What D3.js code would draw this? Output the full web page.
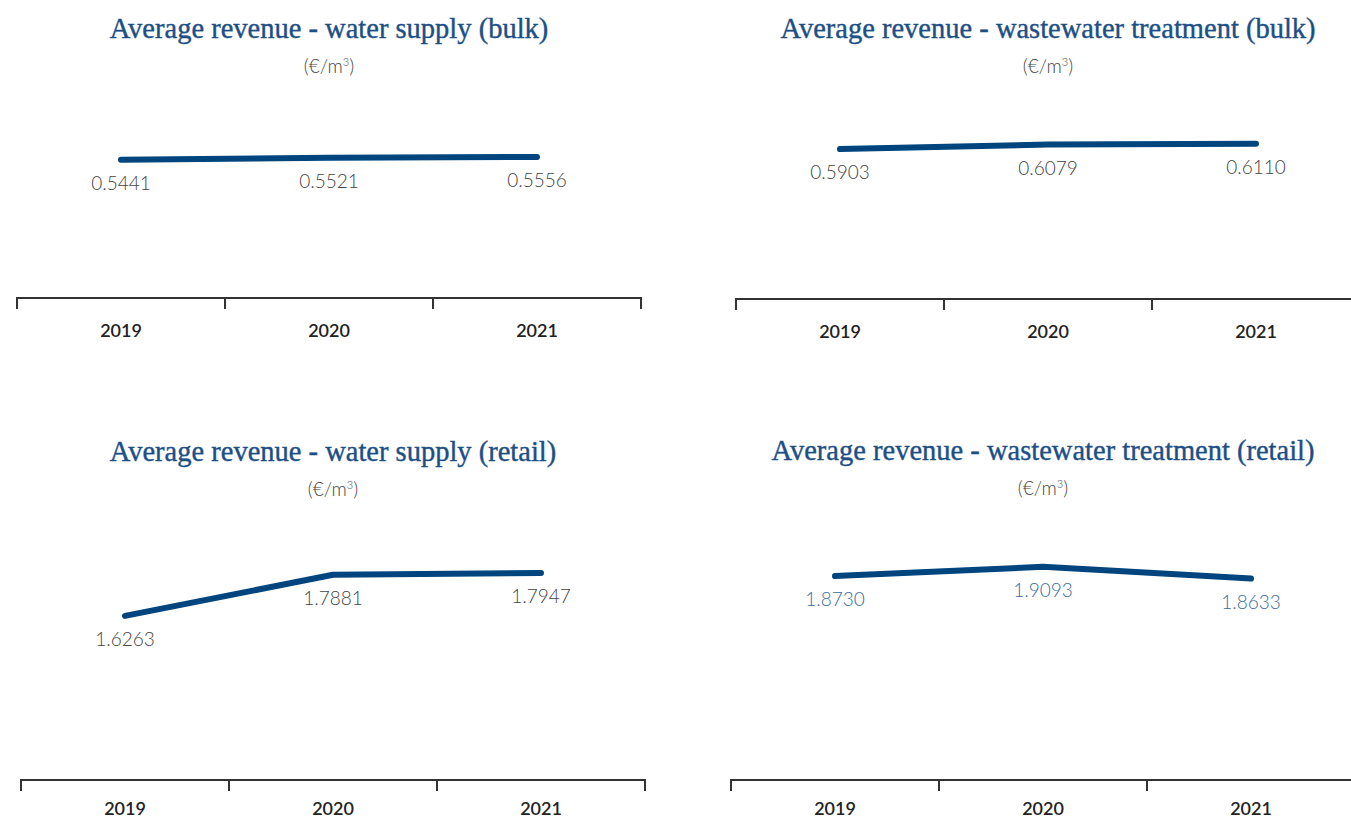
<!DOCTYPE html>
<html>
<head>
<meta charset="utf-8">
<script src="https://cdn.jsdelivr.net/npm/d3@7"></script>
<style>
  body { margin: 0; background: #fff; }
  svg { display: block; }
</style>
</head>
<body>
<script>
//-----------------Data----------------

const years = ["2019", "2020", "2021"];
const titles = [
  "Average revenue - water supply (bulk)",
  "Average revenue - wastewater treatment (bulk)",
  "Average revenue - water supply (retail)",
  "Average revenue - wastewater treatment (retail)"
];
const waterBulk = [0.5441, 0.5521, 0.5556];
const wastewaterBulk = [0.5903, 0.6079, 0.611];
const waterRetail = [1.6263, 1.7881, 1.7947];
const wastewaterRetail = [1.873, 1.9093, 1.8633];
const yFloors = [0, 0, 0.98, 1.07];

//-----------------Layout----------------

const width = 1351;
const height = 819;
const axisWidth = 624;
const pxPerUnit = 254;
const lineColor = "#00457e";
const titleColor = "#1d4f86";

const panels = [
  { left: 17, axisY: 298, titleY: 38, subY: 73, yearY: 39, values: waterBulk, labelColor: "#444" },
  { left: 736, axisY: 299, titleY: 38, subY: 73, yearY: 39, values: wastewaterBulk, labelColor: "#444" },
  { left: 21, axisY: 780, titleY: 461, subY: 496, yearY: 35, values: waterRetail, labelColor: "#444" },
  { left: 731, axisY: 780, titleY: 460, subY: 495, yearY: 35, values: wastewaterRetail, labelColor: "#3b6c9d" }
];

const svg = d3.select("body").append("svg").attr("width", width).attr("height", height);

panels.forEach((p, i) => {
  const g = svg.append("g");
  const cx = p.left + axisWidth / 2;

  //---------------Scales---------------------

  const xScale = d3.scaleBand().domain(years).range([p.left, p.left + axisWidth]);
  const yScale = d3
    .scaleLinear()
    .domain([yFloors[i], yFloors[i] + 1])
    .range([p.axisY, p.axisY - pxPerUnit]);

  //----------------Header-----------------

  g.append("text")
    .attr("x", cx)
    .attr("y", p.titleY)
    .text(titles[i])
    .style("text-anchor", "middle")
    .style("font-family", "'Liberation Serif', serif")
    .style("font-size", "28.5px")
    .style("fill", titleColor)
    .style("stroke", titleColor)
    .style("stroke-width", "0.4px");

  const sub = g
    .append("text")
    .attr("x", cx)
    .attr("y", p.subY)
    .style("text-anchor", "middle")
    .style("font-family", "Lato, sans-serif")
    .style("font-weight", 300)
    .style("font-size", "19px")
    .style("fill", "#444");
  sub.append("tspan").text("(€/m");
  sub.append("tspan").text("3").attr("dy", -7).style("font-size", "11px");
  sub.append("tspan").text(")").attr("dy", 7);

  //-------------Line----------------

  const line = d3
    .line()
    .x((d, j) => xScale(years[j]) + xScale.bandwidth() / 2)
    .y((d) => yScale(d));

  g.append("path")
    .datum(p.values)
    .attr("d", line)
    .style("fill", "none")
    .style("stroke", lineColor)
    .style("stroke-width", 6)
    .style("stroke-linecap", "round")
    .style("stroke-linejoin", "round");

  g.selectAll(".value")
    .data(p.values)
    .enter()
    .append("text")
    .attr("class", "value")
    .attr("x", (d, j) => xScale(years[j]) + xScale.bandwidth() / 2)
    .attr("y", (d) => yScale(d) + 30)
    .text((d) => d.toFixed(4))
    .style("text-anchor", "middle")
    .style("font-family", "Lato, sans-serif")
    .style("font-weight", 300)
    .style("font-size", "19px")
    .style("fill", p.labelColor);

  //------------Axis----------------

  const xAxis = d3.axisBottom(xScale).tickSize(0).tickPadding(0);
  const axisG = g.append("g").attr("transform", "translate(0," + p.axisY + ")").call(xAxis);
  axisG.select(".domain").remove();
  axisG.selectAll(".tick line").remove();
  axisG
    .selectAll(".tick text")
    .attr("y", p.yearY)
    .attr("dy", 0)
    .style("font-family", "Lato, sans-serif")
    .style("font-weight", 600)
    .style("font-size", "18px")
    .style("fill", "#222");

  const edges = [p.left].concat(years.map((y) => xScale(y) + xScale.bandwidth()));
  axisG
    .append("line")
    .attr("x1", p.left)
    .attr("x2", p.left + axisWidth)
    .style("stroke", "#333")
    .style("stroke-width", 2);
  axisG
    .selectAll(".edge")
    .data(edges)
    .enter()
    .append("line")
    .attr("class", "edge")
    .attr("x1", (d) => d)
    .attr("x2", (d) => d)
    .attr("y1", -1)
    .attr("y2", 11)
    .style("stroke", "#333")
    .style("stroke-width", 2);
});
</script>
</body>
</html>
